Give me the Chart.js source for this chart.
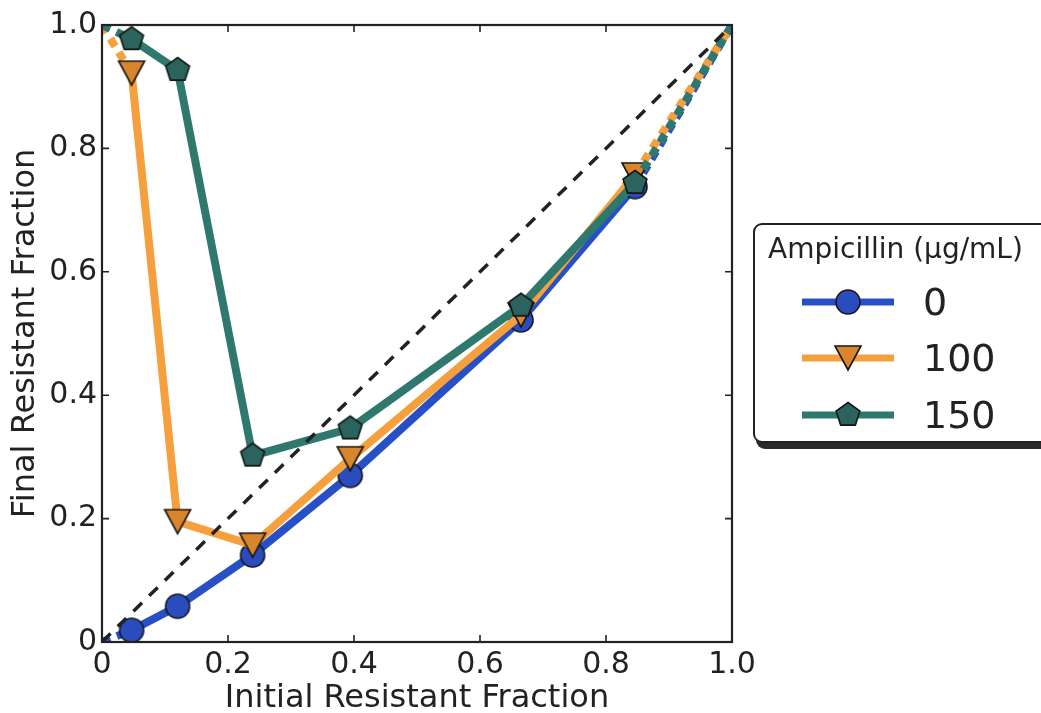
<!DOCTYPE html>
<html><head><meta charset="utf-8">
<script src="https://cdn.jsdelivr.net/npm/chart.js@4.4.1/dist/chart.umd.min.js"></script>
<style>
html,body{margin:0;padding:0;background:#fff;}
#wrap{position:relative;width:1041px;height:713px;overflow:hidden;background:#fff;}
canvas#c{position:absolute;left:0;top:0;}
#legend{position:absolute;left:753px;top:223px;width:300px;height:216px;border:2px solid #222;border-radius:9px;box-shadow:3px 6px 0 #2a2a2a;background:#fff;font-family:'DejaVu Sans',sans-serif;color:#222;}
#legend .ttl{position:absolute;left:13px;top:7px;font-size:28px;white-space:nowrap;}
#legend .row{position:absolute;left:0;height:40px;width:290px;}
#legend .row canvas{position:absolute;left:47px;top:5px;}
#legend .row span{position:absolute;left:168px;top:-2px;font-size:38px;line-height:44px;}
</style></head><body>
<div id="wrap"><canvas id="c" width="1041" height="713"></canvas><div id="legend"></div></div>
<script>
// ---- data ----
const initialFraction = [0, 0.047, 0.120, 0.239, 0.394, 0.665, 0.846, 1.0];
const final0   = [0,   0.019, 0.058, 0.141, 0.270, 0.522, 0.738, 1.0];
const final100 = [1.0, 0.922, 0.195, 0.157, 0.297, 0.530, 0.757, 1.0];
const final150 = [1.0, 0.977, 0.927, 0.302, 0.346, 0.545, 0.744, 1.0];
const seriesNames = ['0', '100', '150'];
const legendTitle = 'Ampicillin (\u00b5g/mL)';
const diagX = [0, 1];
const diagY = [0, 1];
const tickValues = [0, 0.2, 0.4, 0.6, 0.8, 1.0];
const tickLabels = ['0', '0.2', '0.4', '0.6', '0.8', '1.0'];
const xTitle = 'Initial Resistant Fraction';
const yTitle = 'Final Resistant Fraction';

// ---- styles ----
const lineColors = ['#2850c6', '#f5a03c', '#2e786e'];
const fillColors = ['#2a4cbf', '#d9852c', '#2b645e'];
const edge = '#161616';

function makeMarker(shape, fill) {
  const c = document.createElement('canvas');
  const s = 30; c.width = s; c.height = s;
  const g = c.getContext('2d');
  g.fillStyle = fill; g.strokeStyle = edge; g.lineWidth = 1.6; g.lineJoin = 'miter';
  g.beginPath();
  if (shape === 'tri') {
    const w = 13, h = 12;
    g.moveTo(15 - w, 15 - h); g.lineTo(15 + w, 15 - h); g.lineTo(15, 15 + h); g.closePath();
  } else if (shape === 'pent') {
    const r = 12.5;
    for (let k = 0; k < 5; k++) {
      const a = -Math.PI / 2 + k * 2 * Math.PI / 5;
      const px = 15 + r * Math.cos(a), py = 15 + r * Math.sin(a);
      if (k === 0) g.moveTo(px, py); else g.lineTo(px, py);
    }
    g.closePath();
  } else {
    g.arc(15, 15, 12, 0, Math.PI * 2);
  }
  g.fill(); g.stroke();
  return c;
}
const markers = [makeMarker('circle', fillColors[0]), makeMarker('tri', fillColors[1]), makeMarker('pent', fillColors[2])];

function pts(xs, ys) { return xs.map((x, i) => ({x: x, y: ys[i]})); }
const allSeries = [final0, final100, final150];

const datasets = allSeries.map((ys, si) => {
  const n = ys.length;
  return {
    label: seriesNames[si],
    data: pts(initialFraction, ys),
    borderColor: lineColors[si],
    borderWidth: 8,
    pointStyle: markers[si],
    pointRadius: ctx => (ctx.dataIndex === 0 || ctx.dataIndex === n - 1) ? 0 : 12,
    pointHoverRadius: ctx => (ctx.dataIndex === 0 || ctx.dataIndex === n - 1) ? 0 : 12,
    fill: false,
    tension: 0,
    order: 3 - si,
    segment: {
      borderDash: ctx => (ctx.p0DataIndex === 0 || ctx.p1DataIndex === n - 1) ? [9, 7] : undefined
    }
  };
});
datasets.push({
  label: 'diag',
  data: pts(diagX, diagY),
  borderColor: '#222',
  borderWidth: 3.5,
  borderDash: [12, 10],
  pointRadius: 0,
  fill: false,
  order: 0
});

const frameTicks = {
  id: 'frameTicks',
  afterDatasetsDraw(chart) {
    const {ctx, chartArea: a, scales} = chart;
    ctx.save();
    ctx.strokeStyle = '#222';
    ctx.lineWidth = 1.6;
    const L = 7;
    tickValues.forEach(v => {
      if (v === 0 || v === 1) return;
      const px = scales.x.getPixelForValue(v);
      ctx.beginPath();
      ctx.moveTo(px, a.bottom); ctx.lineTo(px, a.bottom - L);
      ctx.moveTo(px, a.top); ctx.lineTo(px, a.top + L);
      ctx.stroke();
      const py = scales.y.getPixelForValue(v);
      ctx.beginPath();
      ctx.moveTo(a.left, py); ctx.lineTo(a.left + L, py);
      ctx.moveTo(a.right, py); ctx.lineTo(a.right - L, py);
      ctx.stroke();
    });
    ctx.lineWidth = 2.2;
    ctx.strokeRect(a.left, a.top, a.right - a.left, a.bottom - a.top);
    ctx.restore();
  }
};

Chart.defaults.font.family = "'DejaVu Sans', sans-serif";
Chart.defaults.color = '#222';

new Chart(document.getElementById('c'), {
  type: 'line',
  data: {datasets: datasets},
  options: {
    responsive: false,
    animation: false,
    devicePixelRatio: 1,
    layout: {padding: {left: 0, top: 25, right: 309, bottom: 0}},
    plugins: {legend: {display: false}, tooltip: {enabled: false}},
    scales: {
      x: {
        type: 'linear', min: 0, max: 1,
        afterBuildTicks: s => { s.ticks = tickValues.map(v => ({value: v})); },
        afterFit: s => { s.height = 71; },
        grid: {display: false, drawTicks: false},
        border: {display: false},
        ticks: {font: {size: 30}, padding: 5, maxRotation: 0, autoSkip: false,
                callback: (v, i) => tickLabels[i]},
        title: {display: true, text: xTitle, font: {size: 32}, padding: {top: 0, bottom: -5}}
      },
      y: {
        type: 'linear', min: 0, max: 1,
        afterBuildTicks: s => { s.ticks = tickValues.map(v => ({value: v})); },
        afterFit: s => { s.width = 102; },
        grid: {display: false, drawTicks: false},
        border: {display: false},
        ticks: {font: {size: 30}, padding: 5, autoSkip: false,
                callback: (v, i) => tickLabels[i]},
        title: {display: true, text: yTitle, font: {size: 32}, padding: {top: 6, bottom: 0}}
      }
    }
  },
  plugins: [frameTicks]
});

// ---- legend (HTML, built from the series arrays) ----
const lg = document.getElementById('legend');
const t = document.createElement('div'); t.className = 'ttl'; t.textContent = legendTitle; lg.appendChild(t);
const rowTops = [57, 113, 170];
seriesNames.forEach((nm, si) => {
  const r = document.createElement('div'); r.className = 'row'; r.style.top = rowTops[si] + 'px';
  const c = document.createElement('canvas'); c.width = 92; c.height = 30;
  const g = c.getContext('2d');
  g.strokeStyle = lineColors[si]; g.lineWidth = 7;
  g.beginPath(); g.moveTo(0, 15); g.lineTo(92, 15); g.stroke();
  g.drawImage(markers[si], 46 - 15, 0);
  r.appendChild(c);
  const sp = document.createElement('span'); sp.textContent = nm; r.appendChild(sp);
  lg.appendChild(r);
});
</script>
</body></html>
